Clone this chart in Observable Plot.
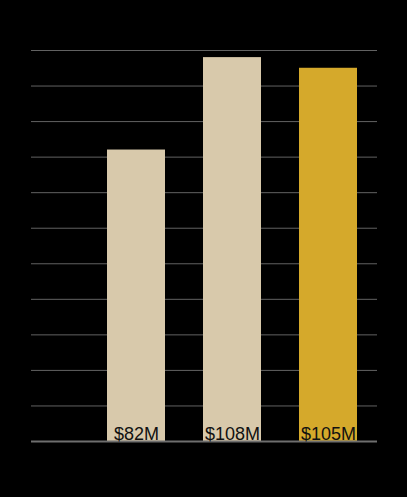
<!DOCTYPE html>
<html>
<head>
<meta charset="utf-8">
<script src="https://cdn.jsdelivr.net/npm/d3@7"></script>
<script src="https://cdn.jsdelivr.net/npm/@observablehq/plot@0.6"></script>
<style>
  html, body { margin: 0; padding: 0; background: #000; }
  #chart svg { display: block; }
</style>
</head>
<body>
<div id="chart"></div>
<script>
const categories = ["A", "B", "C"];
const values = [82, 108, 105];
const labels = ["$82M", "$108M", "$105M"];
const colors = ["#d8c9ab", "#d8c9ab", "#d5a92b"];
const yTicks = d3.range(0, 111, 10);

const data = categories.map((c, i) => ({cat: c, value: values[i], label: labels[i], color: colors[i]}));

const chart = Plot.plot({
  width: 407,
  height: 497,
  marginTop: 50,
  marginBottom: 56,
  marginLeft: 31,
  marginRight: 30,
  style: {background: "#000", color: "#000", fontFamily: "Liberation Sans, Arial, sans-serif"},
  x: {domain: categories, paddingInner: 0.4, paddingOuter: 0.2, range: [87, 377], axis: null},
  y: {domain: [0, 110], ticks: yTicks, axis: null},
  marks: [
    Plot.ruleY(yTicks.filter(d => d > 0), {stroke: "#626262", strokeWidth: 1}),
    Plot.axisY(yTicks, {anchor: "left", tickSize: 0, fill: "#000", fontSize: 10}),
    Plot.barY(data, {x: "cat", y: "value", fill: "color"}),
    Plot.ruleY([0], {stroke: "#6e6e6e", strokeWidth: 2}),
    Plot.text(data, {x: "cat", y: 0, text: "label", fill: "#111", fontSize: 18, lineAnchor: "bottom", dy: -2})
  ]
});
document.getElementById("chart").appendChild(chart);
</script>
</body>
</html>
